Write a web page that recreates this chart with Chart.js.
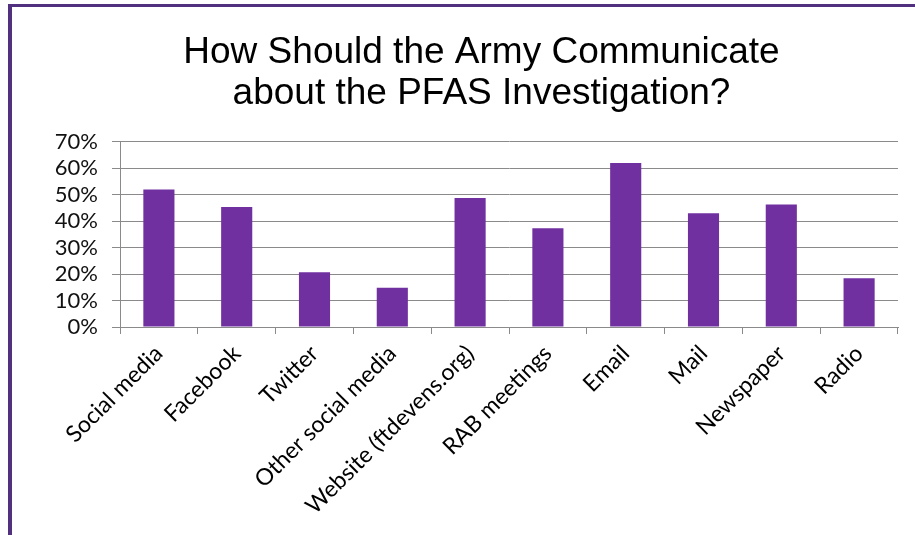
<!DOCTYPE html>
<html>
<head>
<meta charset="utf-8">
<script src="https://cdn.jsdelivr.net/npm/chart.js@4"></script>
<style>
  html, body { margin: 0; padding: 0; background: #fff; }
  #wrap { position: relative; width: 915px; height: 535px; overflow: hidden; }
  #frame {
    position: absolute; left: 8px; top: 4px; right: -10px; bottom: -10px;
    border-top: 3px solid #51307f; border-left: 4px solid #51307f;
    pointer-events: none;
  }
  canvas { position: absolute; left: 0; top: 0; }
</style>
</head>
<body>
<div id="wrap">
  <canvas id="grafico" width="915" height="535"></canvas>
  <div id="frame"></div>
</div>
<script>
const titulo = ['How Should the Army Communicate', 'about the PFAS Investigation?'];
const categorias = ['Social media', 'Facebook', 'Twitter', 'Other social media', 'Website (ftdevens.org)',
    'RAB meetings', 'Email', 'Mail', 'Newspaper', 'Radio'];
const valores = [52, 45.4, 20.7, 14.8, 48.8, 37.3, 62, 43, 46.3, 18.4];
const yMax = 70;
const yPasso = 10;

const cinza = '#8a8a8a';
const fonteEixo = 'Lato, "Open Sans", sans-serif';

// o título fica centrado um pouco à direita, sobre a área toda do slide
const deslocaTitulo = {
    id: 'deslocaTitulo',
    afterLayout(chart) {
        const t = chart.titleBlock;
        if (t) { t.left = 48; t.right = chart.width; }
    }
};

const ctx = document.getElementById('grafico').getContext('2d');
const grafico = new Chart(ctx, {
    type: 'bar',
    data: {
        labels: categorias,
        datasets: [{
            label: 'Respostas',
            data: valores,
            backgroundColor: '#7030a0',
            borderWidth: 0,
            barPercentage: 0.4,
            categoryPercentage: 1.0
        }]
    },
    options: {
        responsive: false,
        animation: false,
        layout: {
            padding: { left: 0, right: 17, top: 0, bottom: 0 }
        },
        plugins: {
            legend: { display: false },
            tooltip: { enabled: false },
            title: {
                display: true,
                text: titulo,
                color: '#000',
                font: { family: '"Liberation Sans", Arial, sans-serif', size: 37, weight: 'normal', lineHeight: 1.12 },
                padding: { top: 32, bottom: 27 }
            }
        },
        scales: {
            x: {
                grid: { display: true, drawOnChartArea: false, offset: true, color: cinza, tickLength: 7 },
                border: { display: true, color: cinza, width: 1 },
                ticks: {
                    autoSkip: false,
                    minRotation: 45,
                    maxRotation: 45,
                    padding: 6,
                    color: '#000',
                    font: { family: fonteEixo, size: 23 }
                },
                afterFit: (s) => { s.height = 208; }
            },
            y: {
                min: 0,
                max: yMax,
                grid: { color: cinza, lineWidth: 1, tickLength: 8 },
                border: { display: true, color: cinza, width: 1 },
                ticks: {
                    stepSize: yPasso,
                    autoSkip: false,
                    padding: 14,
                    color: '#111',
                    font: { family: fonteEixo, size: 22 },
                    callback: (v) => v + '%'
                },
                afterFit: (s) => { s.width = 120; }
            }
        }
    },
    plugins: [deslocaTitulo]
});
</script>
</body>
</html>
